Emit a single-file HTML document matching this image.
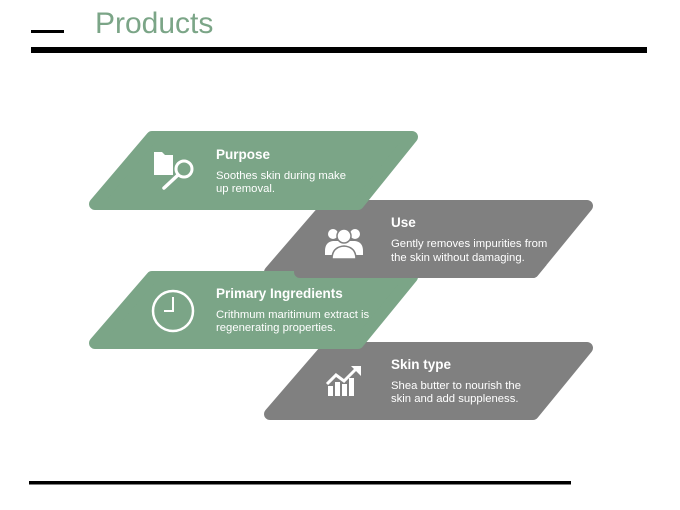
<!DOCTYPE html>
<html><head><meta charset="utf-8"><style>
html,body{margin:0;padding:0;background:#fff;}
body{width:680px;height:510px;overflow:hidden;position:relative;font-family:"Liberation Sans",sans-serif;}
</style></head><body>
<svg width="680" height="510" viewBox="0 0 680 510" xmlns="http://www.w3.org/2000/svg" style="position:absolute;left:0;top:0">
<rect x="31" y="30" width="33" height="3" fill="#000"/>
<text x="95" y="33" font-family="Liberation Sans, sans-serif" font-size="30" fill="#7ba587">Products</text>
<rect x="31" y="47" width="616" height="6" fill="#000"/>
<rect x="29" y="481" width="542" height="3.5" fill="#000"/>

<defs><clipPath id="c1"><rect x="260" y="265" width="300" height="20"/></clipPath></defs>
<g stroke-linejoin="round" stroke-width="12">
<polygon points="327,206 587,206 533,272 270,272" fill="#808080" stroke="#808080"/>
<polygon points="152,137 412,137 358,204 95,204" fill="#7ba587" stroke="#7ba587"/>
<polygon points="327,348 587,348 533,414 270,414" fill="#808080" stroke="#808080"/>
<polygon points="152,277 412,277 358,343 95,343" fill="#7ba587" stroke="#7ba587"/>
<polygon points="327,206 587,206 533,272 300,272" fill="#808080" stroke="#808080" clip-path="url(#c1)"/>
</g>

<g font-family="Liberation Sans, sans-serif" fill="#fff">
<text x="216" y="159" font-size="13.5" font-weight="bold">Purpose</text>
<text x="216" y="179" font-size="11.3">Soothes skin during make</text>
<text x="216" y="192" font-size="11.3">up removal.</text>
<text x="391" y="227" font-size="13.5" font-weight="bold">Use</text>
<text x="391" y="247" font-size="11.3">Gently removes impurities from</text>
<text x="391" y="261" font-size="11.3">the skin without damaging.</text>
<text x="216" y="298" font-size="13.5" font-weight="bold">Primary Ingredients</text>
<text x="216" y="318" font-size="11.3">Crithmum maritimum extract is</text>
<text x="216" y="331" font-size="11.3">regenerating properties.</text>
<text x="391" y="369" font-size="13.5" font-weight="bold">Skin type</text>
<text x="391" y="389" font-size="11.3">Shea butter to nourish the</text>
<text x="391" y="402" font-size="11.3">skin and add suppleness.</text>
</g>

<g fill="#fff">
<path d="M154,152 h8 l3,3 h8 v20 h-19z"/>
<circle cx="184" cy="169" r="10" fill="#7ba587"/>
<circle cx="184" cy="169" r="8" fill="none" stroke="#fff" stroke-width="3"/>
<line x1="178" y1="175" x2="164" y2="188" stroke="#fff" stroke-width="3.5" stroke-linecap="round"/>
<circle cx="333" cy="234" r="5"/><circle cx="355" cy="234" r="5"/>
<path d="M325,251 q0,-9 8,-10 h22 q8,1 8,10 v4 h-38z"/>
<circle cx="344" cy="236" r="7" stroke="#808080" stroke-width="1.5"/>
<path d="M332,259 q0,-12 12,-13 q12,1 12,13z" stroke="#808080" stroke-width="1.5"/>
</g>
<circle cx="173" cy="311" r="20" fill="none" stroke="#fff" stroke-width="2.5"/>
<path d="M173,297 v14 h-9" fill="none" stroke="#fff" stroke-width="2"/>
<g fill="#fff">
<rect x="328" y="386" width="5" height="10"/><rect x="335" y="382" width="5" height="14"/>
<rect x="342" y="384" width="5" height="12"/><rect x="349" y="378" width="5" height="18"/>
<path d="M327,384 l9,-9 l8,6 l12,-12" fill="none" stroke="#fff" stroke-width="3"/>
<path d="M351,366 h10 v10z"/>
</g>
</svg>
</body></html>
